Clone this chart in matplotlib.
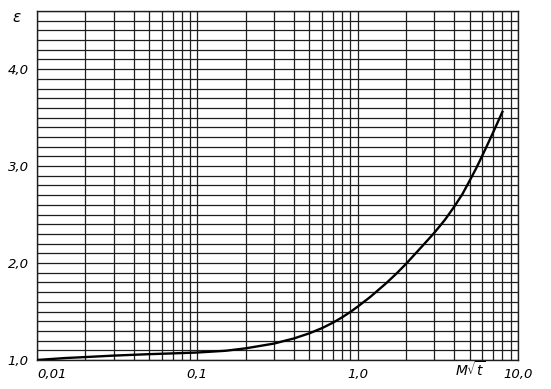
import numpy as np
import matplotlib
matplotlib.use("Agg")
import matplotlib.pyplot as plt
from matplotlib.ticker import FixedLocator, NullFormatter, LogLocator

# curve values
m_sqrt_t = [0.01, 0.015, 0.02, 0.03, 0.05, 0.07, 0.1, 0.15, 0.2, 0.3, 0.4, 0.5,
            0.6, 0.7, 0.8, 0.9, 1.0, 1.2, 1.5, 1.75, 2.0, 2.5, 3.0, 3.5, 4.0,
            4.5, 5.0, 5.5, 6.0, 6.5, 7.0, 7.5, 8.0]
eps = [1.0, 1.02, 1.03, 1.045, 1.06, 1.068, 1.077, 1.095, 1.12, 1.169, 1.222,
       1.275, 1.329, 1.384, 1.44, 1.495, 1.55, 1.651, 1.789, 1.893, 1.99, 2.165,
       2.31, 2.445, 2.58, 2.71, 2.85, 2.98, 3.11, 3.232, 3.347, 3.457, 3.56]

x_ticks = [0.01, 0.1, 1.0, 10.0]
x_labels = ["0,01", "0,1", "1,0", "10,0"]
y_ticks = [1.0, 2.0, 3.0, 4.0]
y_labels = ["1,0", "2,0", "3,0", "4,0"]

fig = plt.figure(figsize=(5.51, 3.89), dpi=100)
ax = fig.add_axes([0.0672, 0.0746, 0.8728, 0.8971])

ax.plot(m_sqrt_t, eps, color="black", lw=1.7, zorder=3)

ax.set_xscale("log")
ax.set_xlim(0.01, 10)
ax.set_ylim(1.0, 4.6)

# grid: log minor lines on x, every 0.1 on y
ax.xaxis.set_major_locator(FixedLocator(x_ticks))
ax.xaxis.set_minor_locator(LogLocator(base=10, subs=np.arange(2, 10)))
ax.xaxis.set_minor_formatter(NullFormatter())
ax.yaxis.set_major_locator(FixedLocator(y_ticks))
ax.yaxis.set_minor_locator(FixedLocator(np.arange(1.0, 4.61, 0.1)))
ax.grid(which="both", color="#1e1e1e", lw=0.9)

ax.set_xticklabels(x_labels, fontstyle="italic", fontsize=9.5)
ax.set_yticklabels(y_labels, fontstyle="italic", fontsize=9.5)
ax.tick_params(which="both", length=0, pad=6)
ax.get_xticklabels()[0].set_ha("left")

for s in ax.spines.values():
    s.set_color("#1e1e1e")
    s.set_linewidth(1.0)

fig.text(0.853, 0.05, r"$M\sqrt{t}$", ha="center", va="center", fontsize=10)
fig.text(0.031, 0.955, r"$\varepsilon$", ha="center", va="center", fontsize=11)

fig.savefig("out.png", dpi=100)
